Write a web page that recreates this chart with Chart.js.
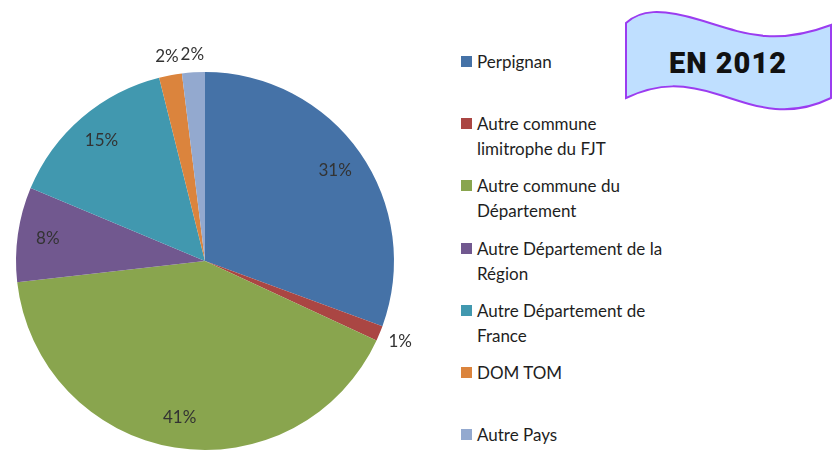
<!DOCTYPE html>
<html lang="fr">
<head>
<meta charset="UTF-8">
<title>Origine EN 2012</title>
<script src="https://cdn.jsdelivr.net/npm/chart.js@4.4.1/dist/chart.umd.min.js"></script>
<style>
    body {
        margin: 0;
        width: 835px;
        height: 462px;
        background: #fff;
        position: relative;
        overflow: hidden;
        font-family: Lato, 'Open Sans', sans-serif;
    }
    #pie-wrap {
        position: absolute;
        left: 0;
        top: 0;
        width: 440px;
        height: 462px;
    }
    #legend {
        position: absolute;
        left: 461px;
        top: 49px;
        margin: 0;
        padding: 0;
        list-style: none;
        font-size: 17px;
        color: #1e1e1e;
    }
    #legend li {
        position: relative;
        height: 62.2px;
        padding-left: 16px;
        line-height: 25px;
    }
    #legend .box {
        position: absolute;
        left: 0;
        top: 7px;
        width: 11px;
        height: 11px;
    }
    #banner {
        position: absolute;
        left: 620px;
        top: 5px;
    }
</style>
</head>
<body>
<div id="pie-wrap"><canvas id="pie"></canvas></div>
<ul id="legend"></ul>
<svg id="banner" width="215" height="110" viewBox="620 5 215 110">
    <path d="M626,23 C640,10 660,8 700,20 C745,34 775,46 831,25 L831,98 C790,118 760,108 720,95 C685,84 660,82 626,98 Z"
          fill="#bfdfff" stroke="#9b3cf0" stroke-width="2"/>
    <text x="728" y="73" text-anchor="middle" font-family="Roboto, sans-serif" font-weight="900"
          font-size="29" letter-spacing="1" fill="#111">EN 2012</text>
</svg>

<script>
    const categories = [
        ['Perpignan'],
        ['Autre commune', 'limitrophe du FJT'],
        ['Autre commune du', 'Département'],
        ['Autre Département de la', 'Région'],
        ['Autre Département de', 'France'],
        ['DOM TOM'],
        ['Autre Pays']
    ];
    const shares = [30.6, 1.3, 41.3, 8.1, 14.8, 1.95, 1.95];
    const colors = ['#4572A7', '#AA4643', '#89A54E', '#71588F', '#4198AF', '#DB843D', '#93A9CF'];

    // legend in html, wrapped lines like the original
    const legend = document.getElementById('legend');
    categories.forEach((lines, i) => {
        const li = document.createElement('li');
        li.innerHTML = `<span class="box" style="background:${colors[i]}"></span>` + lines.join('<br>');
        legend.appendChild(li);
    });

    // percent labels: inside for big slices, outside (best fit) for small ones
    const pctLabels = {
        id: 'pctLabels',
        afterDatasetsDraw(chart) {
            const ctx = chart.ctx;
            const meta = chart.getDatasetMeta(0);
            const total = shares.reduce((a, b) => a + b, 0);
            ctx.save();
            ctx.font = '17px Lato, sans-serif';
            ctx.fillStyle = '#333';
            ctx.textAlign = 'center';
            ctx.textBaseline = 'middle';
            meta.data.forEach((arc, i) => {
                const text = Math.round(shares[i] / total * 100) + '%';
                const mid = (arc.startAngle + arc.endAngle) / 2;
                const cos = Math.cos(mid), sin = Math.sin(mid);
                let r;
                if (shares[i] < 5) {
                    const halfW = ctx.measureText(text).width / 2;
                    r = arc.outerRadius + 8 + halfW * Math.abs(cos) + 9 * Math.abs(sin);
                } else {
                    r = arc.outerRadius * 0.84;
                }
                ctx.fillText(text, arc.x + cos * r, arc.y + sin * r);
            });
            ctx.restore();
        }
    };

    new Chart(document.getElementById('pie'), {
        type: 'pie',
        data: {
            labels: categories,
            datasets: [{
                data: shares,
                backgroundColor: colors,
                borderWidth: 0
            }]
        },
        options: {
            responsive: true,
            maintainAspectRatio: false,
            animation: false,
            layout: {
                padding: { left: 16, right: 46, top: 72, bottom: 12 }
            },
            plugins: {
                legend: { display: false },
                tooltip: { enabled: false }
            }
        },
        plugins: [pctLabels]
    });
</script>
</body>
</html>
